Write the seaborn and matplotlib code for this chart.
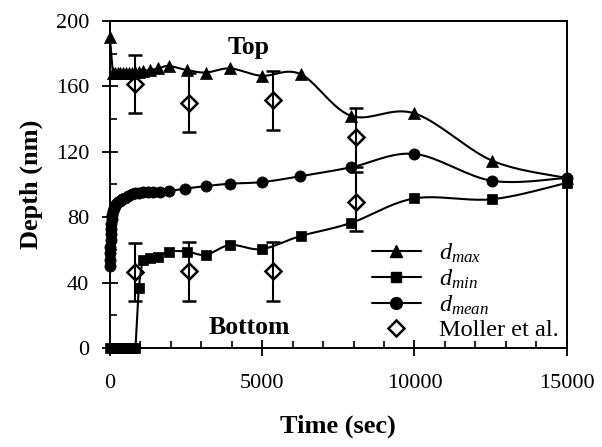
import numpy as np
import matplotlib
matplotlib.use("Agg")
import matplotlib.pyplot as plt
import seaborn as sns
import pandas as pd
from matplotlib.lines import Line2D
from matplotlib.ticker import MultipleLocator

# ---- data -------------------------------------------------------------
time_max = [0, 100, 180, 260, 340, 430, 520, 620, 720, 830, 950, 1100, 1320,
            1590, 1930, 2520, 3150, 3950, 4980, 6260, 7920, 10000, 12560, 15000]
d_max = [190, 168, 168, 168, 168, 168, 168.5, 168.5, 168.5, 169, 169, 169.5, 170,
         171, 172.5, 170, 168.5, 171, 166.5, 167.5, 142, 143.5, 114.5, 104]

time_min = [0, 100, 180, 260, 340, 430, 520, 620, 720, 830, 950, 1100, 1320,
            1590, 1930, 2520, 3150, 3950, 4980, 6260, 7920, 10000, 12560, 15000]
d_min = [0, 0, 0, 0, 0, 0, 0, 0, 0, 0, 37, 54, 55,
         55.5, 59, 59, 57, 63, 60.5, 68.5, 76.5, 91.5, 91, 101]

time_mean = [0, 5, 10, 15, 20, 25, 30, 40, 55, 75, 100, 130, 165, 210, 260, 330,
             410, 500, 600, 710, 830, 960, 1100, 1250, 1420, 1640, 1950, 2470,
             3140, 3940, 5000, 6240, 7920, 10000, 12540, 15000]
d_mean = [50, 54, 58, 62, 66, 70, 73, 76, 79, 81.5, 83.5, 85.5, 87, 88, 89, 90,
          91, 92, 93, 94, 94.5, 95, 95.2, 95.5, 95.5, 95.5, 96, 97.5,
          99, 100.5, 101.5, 105, 110.5, 118.7, 102.3, 104]

moller_time = [820, 2600, 5350, 8080]
moller_top = [161.5, 150, 151.5, 129]
moller_bottom = [46.5, 47, 47, 89.5]
moller_err = 18

x_ticks = [0, 5000, 10000, 15000]
y_ticks = [0, 40, 80, 120, 160, 200]

# ---- style ------------------------------------------------------------
sns.set_theme(style="ticks")
plt.rcParams["font.family"] = ["Liberation Serif", "DejaVu Serif"]
plt.rcParams["mathtext.fontset"] = "custom"
plt.rcParams["mathtext.it"] = "Liberation Serif:italic"
plt.rcParams["mathtext.rm"] = "Liberation Serif"
plt.rcParams["axes.edgecolor"] = "black"
plt.rcParams["text.color"] = "black"
plt.rcParams["xtick.color"] = "black"
plt.rcParams["ytick.color"] = "black"
plt.rcParams["axes.labelcolor"] = "black"

fig = plt.figure(figsize=(6.02, 4.47), dpi=100)
ax = fig.add_axes([110 / 602, 1 - 348 / 447, 456.7 / 602, 327 / 447])

XMAX, YMAX = 15000, 200
W_PX, H_PX = 456.7, 327


def smooth(x, y, n=20):
    """Cubic Bezier smoothing through the points (Catmull-Rom tangents),
    computed in screen-like units so both axes bend alike."""
    sx, sy = W_PX / XMAX, H_PX / YMAX
    P = np.column_stack([np.asarray(x, float) * sx, np.asarray(y, float) * sy])
    P = np.vstack([P[0], P, P[-1]])
    segs = []
    t = np.linspace(0, 1, n, endpoint=False)[:, None]
    for i in range(1, len(P) - 2):
        p0, p1, p2, p3 = P[i - 1], P[i], P[i + 1], P[i + 2]
        c1 = p1 + (p2 - p0) / 6
        c2 = p2 - (p3 - p1) / 6
        segs.append((1 - t) ** 3 * p1 + 3 * (1 - t) ** 2 * t * c1
                    + 3 * (1 - t) * t ** 2 * c2 + t ** 3 * p2)
    segs.append(P[-2][None, :])
    pts = np.vstack(segs)
    return pts[:, 0] / sx, pts[:, 1] / sy


series = [
    (time_max, d_max, "^", 75),
    (time_min, d_min, "s", 55),
    (time_mean, d_mean, "o", 65),
]
for tx, dy, mk, size in series:
    lx, ly = smooth(tx, dy)
    ax.plot(lx, ly, color="black", lw=1.5, zorder=2, clip_on=False)
    df = pd.DataFrame({"t": tx, "d": dy})
    sns.scatterplot(data=df, x="t", y="d", marker=mk, s=size, color="black",
                    edgecolor="black", linewidth=0.5, ax=ax, zorder=3,
                    legend=False, clip_on=False)

for vals in (moller_top, moller_bottom):
    ax.errorbar(moller_time, vals, yerr=moller_err, fmt="D", mfc="none",
                mec="black", mew=1.8, ms=8.5, ecolor="black", elinewidth=1.5,
                capsize=5, capthick=1.5, zorder=4)

ax.text(4560, 183.5, "Top", ha="center", va="center", fontsize=18.5,
        fontweight="bold")
ax.text(4560, 12.7, "Bottom", ha="center", va="center", fontsize=18.5,
        fontweight="bold")

ax.set_xlim(0, XMAX)
ax.set_ylim(0, YMAX)
ax.set_xticks(x_ticks)
ax.set_yticks(y_ticks)
ax.xaxis.set_minor_locator(MultipleLocator(1000))
ax.yaxis.set_minor_locator(MultipleLocator(20))
ax.tick_params(axis="both", which="major", labelsize=16, width=1.3)
ax.tick_params(axis="x", which="major", direction="inout", length=12, pad=13)
ax.tick_params(axis="y", which="major", direction="inout", length=12, pad=9)
ax.tick_params(axis="both", which="minor", direction="in", length=5, width=1.2)
for sp in ax.spines.values():
    sp.set_linewidth(1.4)
    sp.set_color("black")

ax.set_xlabel("Time (sec)", fontsize=19, fontweight="bold", labelpad=15)
ax.set_ylabel("Depth (nm)", fontsize=19, fontweight="bold", labelpad=9)

handles = [
    Line2D([], [], color="black", lw=1.5, marker="^", ms=9),
    Line2D([], [], color="black", lw=1.5, marker="s", ms=7.5),
    Line2D([], [], color="black", lw=1.5, marker="o", ms=8.5),
    Line2D([], [], ls="none", marker="D", mfc="white", mec="black", mew=1.8, ms=8.5),
]
labels = [r"$d_{max}$", r"$d_{min}$", r"$d_{mean}$", "Moller et al."]
ax.legend(handles, labels, loc="upper left",
          bbox_to_anchor=((372 - 110) / W_PX, (348 - 242) / H_PX),
          frameon=False, fontsize=17.5, handlelength=2.0, handletextpad=0.75,
          labelspacing=0.1, borderpad=0, borderaxespad=0)

fig.savefig("out.png", dpi=100)
